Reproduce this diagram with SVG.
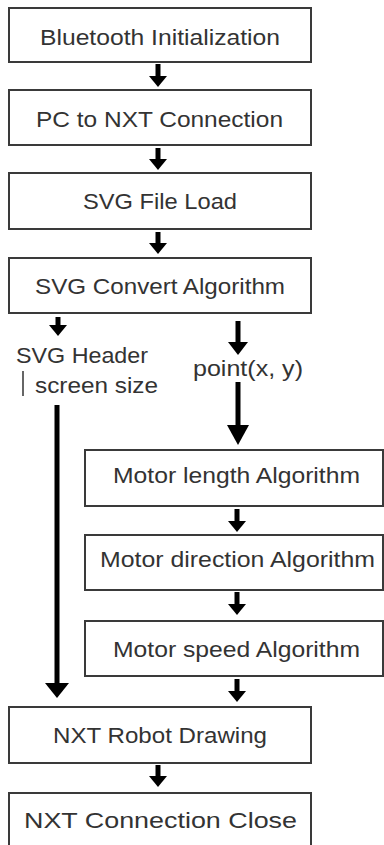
<svg xmlns="http://www.w3.org/2000/svg" width="384" height="845" viewBox="0 0 384 845">
<style>
.box{fill:#fff;stroke:#3a3a3a;stroke-width:2}
.t{font-family:"Liberation Sans",Arial,sans-serif;font-size:22px;fill:#333}
.c{fill:none;stroke:#000;stroke-width:5}
</style>
<defs>
<marker id="ah" markerUnits="userSpaceOnUse" viewBox="0 0 11 18" refX="2" refY="9" markerWidth="11" markerHeight="18" orient="auto"><path d="M0,0 L11,9 L0,18 z" fill="#000"/></marker>
<marker id="ahM" markerUnits="userSpaceOnUse" viewBox="0 0 13 20" refX="2" refY="10" markerWidth="13" markerHeight="20" orient="auto"><path d="M0,0 L13,10 L0,20 z" fill="#000"/></marker>
<marker id="ahL" markerUnits="userSpaceOnUse" viewBox="0 0 20 22" refX="2" refY="11" markerWidth="20" markerHeight="22" orient="auto"><path d="M0,0 L20,11 L0,22 z" fill="#000"/></marker>
<marker id="ahW" markerUnits="userSpaceOnUse" viewBox="0 0 15 24" refX="2" refY="12" markerWidth="15" markerHeight="24" orient="auto"><path d="M0,0 L15,12 L0,24 z" fill="#000"/></marker>
</defs>
<rect width="384" height="845" fill="#fff"/>
<g id="connectors">
<line class="c" x1="158" y1="64" x2="158" y2="78" marker-end="url(#ah)"/>
<line class="c" x1="158" y1="148" x2="158" y2="161" marker-end="url(#ah)"/>
<line class="c" x1="158" y1="232" x2="158" y2="245" marker-end="url(#ah)"/>
<line class="c" x1="58" y1="317" x2="58" y2="327" marker-end="url(#ah)"/>
<line class="c" x1="238" y1="321" x2="238" y2="344" marker-end="url(#ahM)"/>
<line class="c" x1="238" y1="382" x2="238" y2="427" marker-end="url(#ahL)"/>
<line class="c" x1="57" y1="405" x2="57" y2="685" marker-end="url(#ahW)"/>
<line class="c" x1="237" y1="509" x2="237" y2="523" marker-end="url(#ah)"/>
<line class="c" x1="237" y1="592" x2="237" y2="606" marker-end="url(#ah)"/>
<line class="c" x1="237" y1="679" x2="237" y2="693" marker-end="url(#ah)"/>
<line class="c" x1="158" y1="765" x2="158" y2="778" marker-end="url(#ah)"/>
</g>
<g id="n1"><rect class="box" x="9" y="8" width="302" height="54"/><text class="t" x="40" y="45" textLength="240" lengthAdjust="spacingAndGlyphs">Bluetooth Initialization</text></g>
<g id="n2"><rect class="box" x="9" y="90" width="302" height="55"/><text class="t" x="36" y="127" textLength="247" lengthAdjust="spacingAndGlyphs">PC to NXT Connection</text></g>
<g id="n3"><rect class="box" x="9" y="173" width="302" height="56"/><text class="t" x="83" y="209" textLength="154" lengthAdjust="spacingAndGlyphs">SVG File Load</text></g>
<g id="n4"><rect class="box" x="9" y="258" width="302" height="55"/><text class="t" x="35" y="294" textLength="250" lengthAdjust="spacingAndGlyphs">SVG Convert Algorithm</text></g>
<g id="l1"><text class="t" x="16" y="363" textLength="132" lengthAdjust="spacingAndGlyphs">SVG Header</text><line x1="23" y1="371" x2="23" y2="396" stroke="#666" stroke-width="2"/><text class="t" x="35" y="393" textLength="123" lengthAdjust="spacingAndGlyphs">screen size</text></g>
<g id="l2"><text class="t" x="193" y="376" textLength="110" lengthAdjust="spacingAndGlyphs">point(x, y)</text></g>
<g id="n5"><rect class="box" x="85" y="450" width="298" height="56"/><text class="t" x="113" y="483" textLength="247" lengthAdjust="spacingAndGlyphs">Motor length Algorithm</text></g>
<g id="n6"><rect class="box" x="85" y="535" width="298" height="55"/><text class="t" x="100" y="567" textLength="275" lengthAdjust="spacingAndGlyphs">Motor direction Algorithm</text></g>
<g id="n7"><rect class="box" x="85" y="621" width="298" height="55"/><text class="t" x="113" y="657" textLength="247" lengthAdjust="spacingAndGlyphs">Motor speed Algorithm</text></g>
<g id="n8"><rect class="box" x="9" y="707" width="302" height="56"/><text class="t" x="53" y="743" textLength="214" lengthAdjust="spacingAndGlyphs">NXT Robot Drawing</text></g>
<g id="n9"><rect class="box" x="9" y="793" width="302" height="60"/><text class="t" x="24" y="828" textLength="273" lengthAdjust="spacingAndGlyphs">NXT Connection Close</text></g>
</svg>
